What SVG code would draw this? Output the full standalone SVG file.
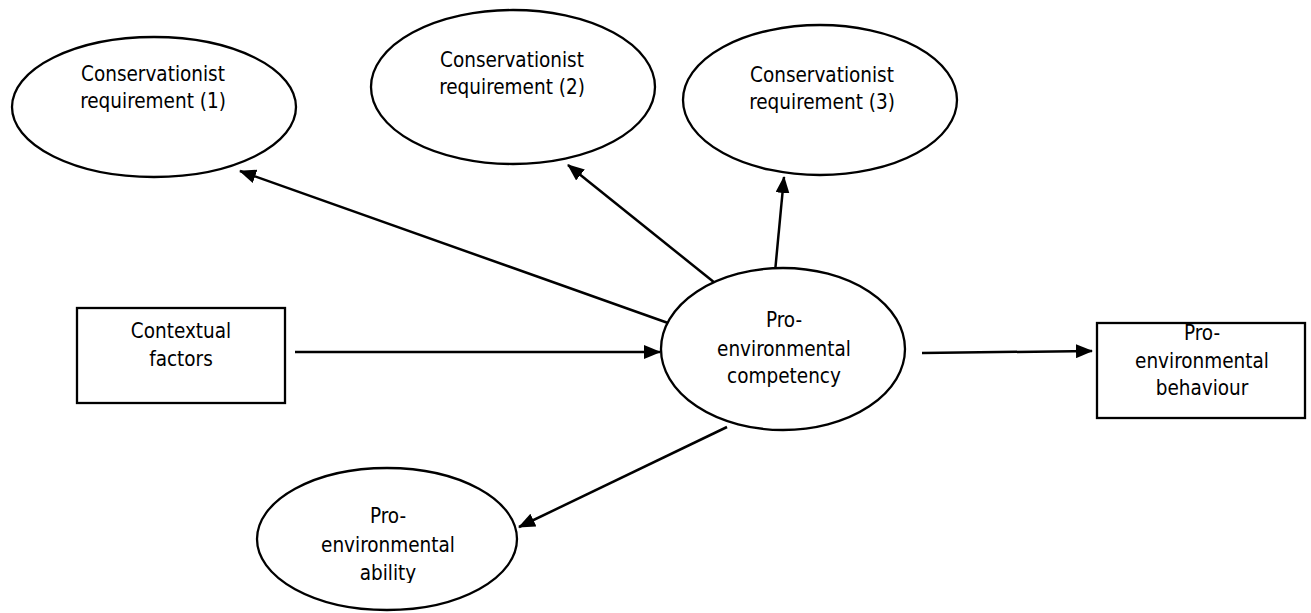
<svg xmlns="http://www.w3.org/2000/svg" width="1311" height="613" viewBox="0 0 1311 613">
<defs>
<style>
.n{fill:#fff;stroke:#000;stroke-width:2.3}
.t{font-family:"DejaVu Sans Condensed","DejaVu Sans",sans-serif;font-size:20.5px;fill:#000;text-anchor:middle}
.c{stroke:#000;stroke-width:2.5;fill:none;marker-end:url(#ah)}
</style>
<marker id="ah" markerWidth="17" markerHeight="14" refX="16" refY="7" orient="auto" markerUnits="userSpaceOnUse">
<path d="M0,0 L17,7 L0,14 Z" fill="#000"/>
</marker>
<clipPath id="abclip"><rect x="300" y="490" width="180" height="93"/></clipPath>
</defs>
<rect width="1311" height="613" fill="#fff"/>
<g id="connectors">
<line class="c" x1="668" y1="323" x2="240" y2="171"/>
<line class="c" x1="715" y1="283" x2="568" y2="165"/>
<line class="c" x1="775" y1="272" x2="784" y2="177"/>
<line class="c" x1="295" y1="352" x2="660" y2="352"/>
<line class="c" x1="922" y1="353" x2="1092" y2="351"/>
<line class="c" x1="727" y1="427" x2="519" y2="527"/>
</g>
<g id="cr1">
<ellipse class="n" cx="154" cy="107" rx="142" ry="70"/>
<text class="t" x="153" y="81">Conservationist</text>
<text class="t" x="153" y="108">requirement (1)</text>
</g>
<g id="cr2">
<ellipse class="n" cx="513" cy="87" rx="142" ry="77"/>
<text class="t" x="512" y="67">Conservationist</text>
<text class="t" x="512" y="94">requirement (2)</text>
</g>
<g id="cr3">
<ellipse class="n" cx="820" cy="100" rx="137" ry="75"/>
<text class="t" x="822" y="82">Conservationist</text>
<text class="t" x="822" y="109">requirement (3)</text>
</g>
<g id="contextual">
<rect class="n" x="77" y="308" width="208" height="95"/>
<text class="t" x="181" y="338">Contextual</text>
<text class="t" x="181" y="366">factors</text>
</g>
<g id="competency">
<ellipse class="n" cx="783" cy="349" rx="122" ry="81"/>
<text class="t" x="784" y="327">Pro-</text>
<text class="t" x="784" y="356">environmental</text>
<text class="t" x="784" y="383">competency</text>
</g>
<g id="behaviour">
<rect class="n" x="1097" y="323" width="208" height="95"/>
<text class="t" x="1202" y="340">Pro-</text>
<text class="t" x="1202" y="368">environmental</text>
<text class="t" x="1202" y="395">behaviour</text>
</g>
<g id="ability">
<ellipse class="n" cx="387" cy="539" rx="130" ry="71"/>
<g clip-path="url(#abclip)">
<text class="t" x="388" y="523">Pro-</text>
<text class="t" x="388" y="552">environmental</text>
<text class="t" x="388" y="580">ability</text>
</g>
</g>
</svg>
